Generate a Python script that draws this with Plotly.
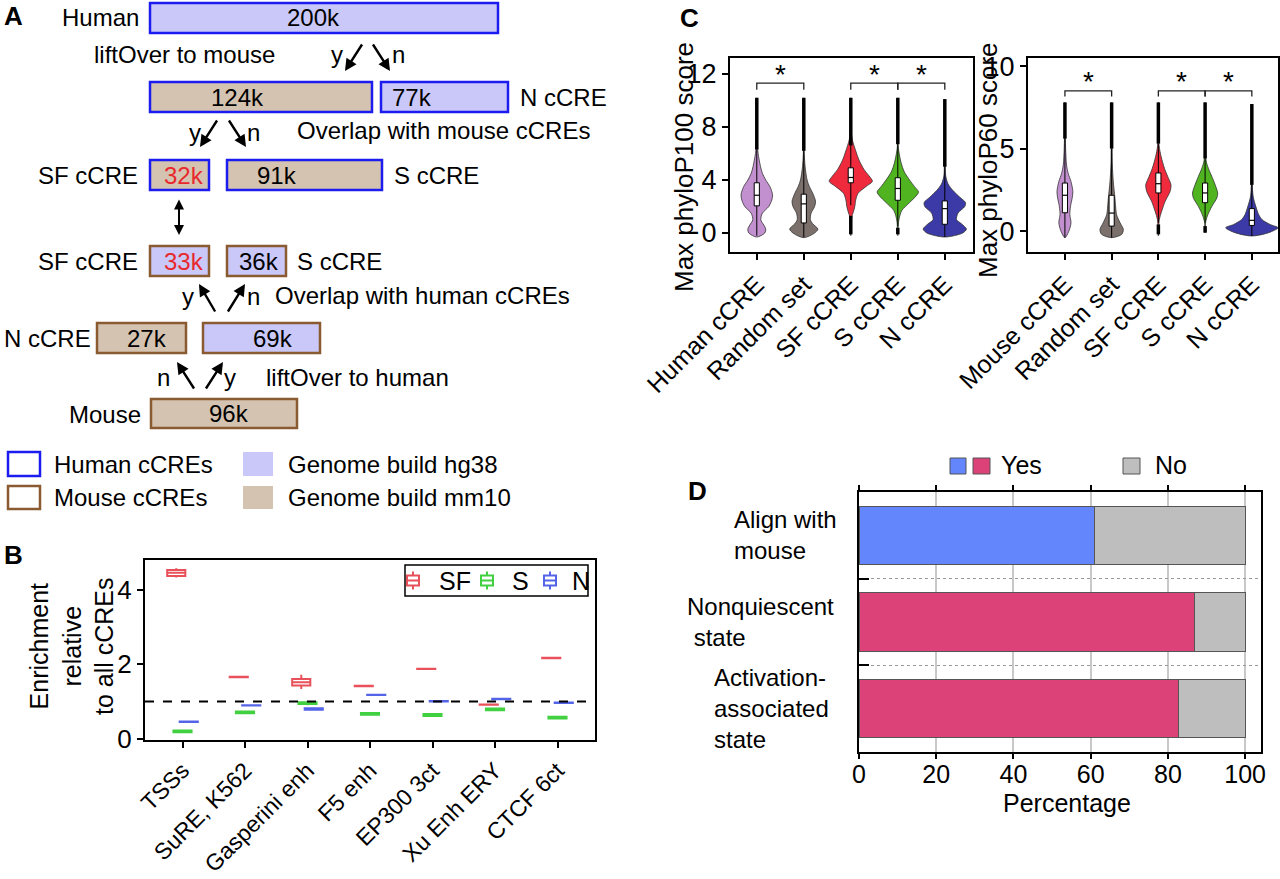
import plotly.graph_objects as go

W, H = 1280, 879
FONT = "Liberation Sans, Arial, Helvetica, sans-serif"


def px(x):
    return x / W


def py(y):
    return 1 - y / H


# ---------------- Panel A data ----------------
a_box_text = ["200k", "124k", "77k", "32k", "91k", "33k", "36k", "27k", "69k", "96k"]
a_box_species = ["human", "human", "human", "human", "human", "mouse", "mouse", "mouse", "mouse", "mouse"]
a_box_build = ["hg38", "mm10", "hg38", "mm10", "mm10", "hg38", "hg38", "mm10", "hg38", "mm10"]
a_box_red = [False, False, False, True, False, True, False, False, False, False]
a_legend = ["Human cCREs", "Mouse cCREs", "Genome build hg38", "Genome build mm10"]

# ---------------- Panel B data ----------------
b_categories = ["TSSs", "SuRE, K562", "Gasperini enh", "F5 enh", "EP300 3ct", "Xu Enh ERY", "CTCF 6ct"]
b_series_names = ["SF", "S", "N"]
b_sf_med = [4.46, 1.66, 1.52, 1.42, 1.88, 0.92, 2.17]
b_sf_q1 = [4.37, 1.655, 1.43, 1.415, 1.875, 0.915, 2.165]
b_sf_q3 = [4.53, 1.665, 1.61, 1.425, 1.885, 0.925, 2.175]
b_sf_lo = [4.33, 1.655, 1.34, 1.415, 1.875, 0.915, 2.165]
b_sf_hi = [4.58, 1.665, 1.72, 1.425, 1.885, 0.925, 2.175]
b_s_med = [0.20, 0.71, 0.96, 0.67, 0.64, 0.79, 0.57]
b_s_q1 = [0.175, 0.685, 0.935, 0.645, 0.615, 0.765, 0.545]
b_s_q3 = [0.225, 0.735, 0.985, 0.695, 0.665, 0.815, 0.595]
b_s_lo = [0.175, 0.685, 0.90, 0.645, 0.615, 0.765, 0.545]
b_s_hi = [0.225, 0.735, 1.02, 0.695, 0.665, 0.815, 0.595]
b_n_med = [0.46, 0.90, 0.80, 1.18, 1.01, 1.07, 0.97]
b_n_q1 = [0.455, 0.895, 0.78, 1.175, 1.005, 1.065, 0.965]
b_n_q3 = [0.465, 0.905, 0.82, 1.185, 1.015, 1.075, 0.975]
b_reference_level = 1.0

# ---------------- Panel C data ----------------
c1_categories = ["Human cCRE", "Random set", "SF cCRE", "S cCRE", "N cCRE"]
c2_categories = ["Mouse cCRE", "Random set", "SF cCRE", "S cCRE", "N cCRE"]
c_colors = ["#c28fcf", "#7b706b", "#ee2a3c", "#4fb41f", "#3b3aa6"]

# violin outlines: score levels and half-widths (category units)
c1_violin_y = [
    [-0.3, 0.0, 0.3, 0.6, 1.0, 1.5, 2.0, 2.5, 2.9, 3.5, 4.0, 4.5, 5.0, 6.0, 6.5, 10.2],
    [-0.35, 0.0, 0.3, 0.7, 1.0, 1.5, 2.0, 2.4, 3.0, 3.5, 4.0, 5.0, 6.0, 10.2],
    [-0.2, 0.5, 1.2, 1.6, 2.0, 2.5, 3.0, 3.5, 3.9, 4.3, 4.8, 5.5, 6.2, 7.0, 7.5, 10.2],
    [-0.2, 0.5, 0.8, 1.2, 1.7, 2.3, 2.8, 3.1, 3.5, 4.0, 4.6, 5.3, 6.2, 6.5, 10.2],
    [-0.3, 0.0, 0.3, 0.7, 1.0, 1.5, 2.0, 2.3, 2.7, 3.2, 3.7, 4.3, 5.0, 10.1],
]
c1_violin_w = [
    [0, .17, .19, .15, .085, .12, .255, .32, .335, .28, .19, .12, .08, .028, .015, 0],
    [0, .23, .30, .19, .14, .155, .23, .25, .19, .12, .07, .028, .01, 0],
    [0, .01, .02, .055, .085, .105, .155, .32, .46, .39, .28, .175, .105, .035, .015, 0],
    [0, .01, .015, .035, .085, .25, .39, .44, .355, .25, .14, .07, .02, .01, 0],
    [0, .38, .46, .355, .25, .28, .425, .44, .32, .175, .07, .02, .01, 0],
]
c1_q1 = [2.05, 0.76, 3.79, 2.47, 0.66]
c1_med = [2.85, 2.20, 4.19, 3.36, 1.84]
c1_q3 = [3.79, 2.93, 4.92, 4.17, 2.42]
c1_lo = [-0.2, -0.3, 2.1, 0.5, -0.3]
c1_hi = [6.3, 6.2, 6.6, 6.7, 5.0]
c1_out_hi = [10.2, 10.2, 10.2, 10.2, 10.1]
c1_out_lo = [None, None, -0.1, -0.1, None]
c1_out_lo_top = [None, None, 1.3, 0.4, None]

c2_violin_y = [
    [-0.4, 0.0, 0.5, 1.0, 1.5, 2.0, 2.4, 3.0, 3.5, 4.0, 5.0, 5.6, 7.8],
    [-0.4, -0.2, 0.1, 0.5, 1.0, 1.5, 2.0, 3.0, 4.0, 5.0, 7.8],
    [-0.3, 0.7, 1.2, 1.8, 2.4, 2.8, 3.3, 3.8, 4.5, 5.2, 7.8],
    [-0.1, 0.6, 1.0, 1.5, 2.0, 2.3, 2.8, 3.3, 3.8, 4.3, 7.8],
    [-0.3, -0.1, 0.2, 0.4, 0.7, 1.0, 1.5, 2.0, 2.5, 7.7],
]
c2_violin_w = [
    [0, .085, .13, .105, .12, .155, .17, .13, .07, .035, .015, .01, 0],
    [0, .215, .25, .18, .105, .085, .07, .035, .015, .01, 0],
    [0, .02, .07, .145, .25, .27, .2, .13, .06, .015, 0],
    [0, .015, .06, .145, .25, .27, .215, .145, .07, .02, 0],
    [0, .36, .56, .39, .215, .145, .085, .035, .015, 0],
]
c2_q1 = [1.11, 0.30, 2.31, 1.72, 0.34]
c2_med = [2.17, 1.09, 2.87, 2.31, 0.65]
c2_q3 = [2.91, 2.17, 3.52, 2.91, 1.36]
c2_lo = [-0.4, -0.4, 0.5, 0.5, -0.3]
c2_hi = [5.6, 5.0, 5.3, 4.4, 2.8]
c2_out_hi = [7.8, 7.8, 7.8, 7.8, 7.7]
c2_out_lo = [None, None, -0.2, -0.1, None]
c2_out_lo_top = [None, None, 0.4, 0.3, None]

c_brackets = [(0, 1), (2, 3), (3, 4)]
c1_bracket_level = [11.3, 10.8]
c2_bracket_level = [8.5, 8.15]

# ---------------- Panel D data ----------------
d_categories = ["Align with<br>mouse", "Nonquiescent<br>&nbsp;state", "Activation-<br>associated<br>state"]
d_yes = [60.9, 86.8, 82.8]
d_no = [39.1, 13.2, 17.2]
d_yes_colors = ["#6386fd", "#dc4278", "#dc4278"]
d_no_color = "#bebebe"

fig = go.Figure()

# ---------------- Panel B traces ----------------
b_colors = ["#e8505a", "#40d040", "#5464e8"]
b_offsets = [-0.1, 0.0, 0.1]
b_series = [
    (b_sf_q1, b_sf_med, b_sf_q3, b_sf_lo, b_sf_hi),
    (b_s_q1, b_s_med, b_s_q3, b_s_lo, b_s_hi),
    (b_n_q1, b_n_med, b_n_q3, b_n_q1, b_n_q3),
]
for k, (q1, med, q3, lo, hi) in enumerate(b_series):
    fig.add_trace(go.Box(
        x=[i + b_offsets[k] for i in range(len(b_categories))], q1=q1, median=med, q3=q3,
        lowerfence=lo, upperfence=hi, name=b_series_names[k], width=0.29, whiskerwidth=0,
        fillcolor="white", line=dict(color=b_colors[k], width=2), boxpoints=False,
        orientation="v", xaxis="x", yaxis="y", showlegend=False))


# ---------------- Panel C traces ----------------
def line_trace(xs, ys, xa, ya, color="black", width=1.0):
    fig.add_trace(go.Scatter(x=xs, y=ys, mode="lines", line=dict(color=color, width=width),
                             xaxis=xa, yaxis=ya, showlegend=False, hoverinfo="skip"))


def add_panel_c(xa, ya, vys, vws, q1, med, q3, lo, hi, out_hi, out_lo, out_lo_top):
    hb = 0.055
    for i in range(len(vys)):
        ys, ws = vys[i], vws[i]
        xs = [i + w for w in ws] + [i - w for w in reversed(ws)]
        yy = list(ys) + list(reversed(ys))
        fig.add_trace(go.Scatter(
            x=xs, y=yy, mode="lines", fill="toself", fillcolor=c_colors[i],
            line=dict(color="#333333", width=0.8, shape="spline", smoothing=0.8),
            xaxis=xa, yaxis=ya, showlegend=False, hoverinfo="skip"))
        line_trace([i, i], [lo[i], q1[i]], xa, ya)
        line_trace([i, i], [q3[i], hi[i]], xa, ya)
        line_trace([i, i], [hi[i], out_hi[i]], xa, ya, width=3.5)
        if out_lo[i] is not None:
            line_trace([i, i], [out_lo[i], out_lo_top[i]], xa, ya, width=3.5)
        fig.add_trace(go.Scatter(
            x=[i - hb, i + hb, i + hb, i - hb, i - hb], y=[q1[i], q1[i], q3[i], q3[i], q1[i]],
            mode="lines", fill="toself", fillcolor="white", line=dict(color="black", width=1),
            xaxis=xa, yaxis=ya, showlegend=False, hoverinfo="skip"))
        line_trace([i - hb, i + hb], [med[i], med[i]], xa, ya, width=1.2)


add_panel_c("x2", "y2", c1_violin_y, c1_violin_w, c1_q1, c1_med, c1_q3, c1_lo, c1_hi,
            c1_out_hi, c1_out_lo, c1_out_lo_top)
add_panel_c("x3", "y3", c2_violin_y, c2_violin_w, c2_q1, c2_med, c2_q3, c2_lo, c2_hi,
            c2_out_hi, c2_out_lo, c2_out_lo_top)

annotations = []
for xa, ya, lev, star_y in [("x2", "y2", c1_bracket_level, 11.95), ("x3", "y3", c2_bracket_level, 9.05)]:
    for a, b in c_brackets:
        line_trace([a, a, b, b], [lev[1], lev[0], lev[0], lev[1]], xa, ya, color="#222222", width=1.3)
        annotations.append(dict(x=(a + b) / 2, y=star_y, xref=xa, yref=ya, text="*",
                                showarrow=False, font=dict(size=28, color="black", family=FONT),
                                yanchor="middle"))

# ---------------- Panel D traces ----------------
d_pos = list(range(len(d_categories)))
fig.add_trace(go.Bar(
    y=d_pos, x=d_yes, orientation="h", width=0.67,
    marker=dict(color=d_yes_colors, line=dict(color="#555555", width=1)),
    xaxis="x4", yaxis="y4", showlegend=False, name="Yes"))
fig.add_trace(go.Bar(
    y=d_pos, x=d_no, orientation="h", width=0.67,
    marker=dict(color=d_no_color, line=dict(color="#555555", width=1)),
    xaxis="x4", yaxis="y4", showlegend=False, name="No"))

# ---------------- axes ----------------
base = dict(showline=True, linecolor="black", linewidth=2, mirror=True, ticks="outside",
            tickcolor="black", tickwidth=2, ticklen=6, zeroline=False, showgrid=False,
            automargin=False, tickfont=dict(family=FONT, size=25, color="black"))


def ax(**kw):
    d = dict(base)
    d.update(kw)
    return d


layout_axes = dict(
    xaxis=ax(domain=[px(145), px(595)], anchor="y", range=[-0.6, 6.6],
             tickvals=list(range(len(b_categories))), ticktext=b_categories, tickangle=-45,
             tickfont=dict(family=FONT, size=23, color="black")),
    yaxis=ax(domain=[py(740), py(560)], anchor="x", range=[-0.03, 4.8], tickvals=[0, 2, 4],
             tickfont=dict(family=FONT, size=26, color="black")),
    xaxis2=ax(domain=[px(730), px(973)], anchor="y2", range=[-0.57, 4.6],
              tickvals=list(range(5)), ticktext=c1_categories, tickangle=-45),
    yaxis2=ax(domain=[py(252), py(58)], anchor="x2", range=[-1.43, 13.2], tickvals=[0, 4, 8, 12],
              tickfont=dict(family=FONT, size=27, color="black")),
    xaxis3=ax(domain=[px(1028), px(1278)], anchor="y3", range=[-0.79, 4.56],
              tickvals=list(range(5)), ticktext=c2_categories, tickangle=-45),
    yaxis3=ax(domain=[py(252), py(58)], anchor="x3", range=[-1.27, 10.49], tickvals=[0, 5, 10],
              tickfont=dict(family=FONT, size=27, color="black")),
    xaxis4=ax(domain=[px(859), px(1261)], anchor="y4", range=[0, 104.1],
              tickvals=[0, 20, 40, 60, 80, 100], mirror="ticks", showgrid=True,
              gridcolor="#c8c8c8", gridwidth=1.5, ticklen=5, ticklabelstandoff=-6),
    yaxis4=ax(domain=[py(752), py(492)], anchor="x4", range=[2.5, -0.5], tickvals=[0.5, 1.5],
              ticks="inside", ticklen=10, showticklabels=False, showgrid=True,
              gridcolor="#999999", griddash="dot", gridwidth=1),
)

shapes = []
# dashed reference line in B
shapes.append(dict(type="line", xref="x domain", yref="y", x0=0, x1=1,
                   y0=b_reference_level, y1=b_reference_level,
                   line=dict(color="black", width=2, dash="dash")))

# ---------------- Panel A drawing ----------------
a_box_px = [(150, 3, 498, 33), (150, 82, 372, 112), (381, 82, 508, 112), (150, 160, 209, 190),
            (227, 160, 382, 190), (150, 246, 209, 276), (227, 246, 286, 276), (97, 323, 186, 353),
            (203, 323, 320, 353), (151, 399, 297, 428)]
a_text_x = [313, 237, 412, 184, 277, 184, 259, 147, 273, 229]
border = {"human": "#1c1cf0", "mouse": "#8a5a30"}
fillc = {"hg38": "#c9c8f8", "mm10": "#d4c3b0"}
for i, (x0, y0, x1, y1) in enumerate(a_box_px):
    shapes.append(dict(type="rect", xref="paper", yref="paper", x0=px(x0), x1=px(x1),
                       y0=py(y1), y1=py(y0), fillcolor=fillc[a_box_build[i]],
                       line=dict(color=border[a_box_species[i]], width=2.5)))
    annotations.append(dict(x=px(a_text_x[i]), y=py((y0 + y1) / 2), xref="paper", yref="paper",
                            text=a_box_text[i], showarrow=False, xanchor="center", yanchor="middle",
                            font=dict(family=FONT, size=24,
                                      color="#e8282d" if a_box_red[i] else "black")))


def txt(text, x, y, anchor="left", size=24, color="black", bold=False):
    annotations.append(dict(x=px(x), y=py(y), xref="paper", yref="paper",
                            text=("<b>%s</b>" % text) if bold else text, showarrow=False,
                            xanchor=anchor, yanchor="middle",
                            font=dict(family=FONT, size=size, color=color)))


txt("A", 2, 16, size=26, bold=True)
txt("Human", 141, 18, "right")
txt("liftOver to mouse", 92, 55)
txt("y", 337, 55, "center")
txt("n", 398, 55, "center")
txt("N cCRE", 518, 97)
txt("y", 195, 132, "center")
txt("n", 253, 132, "center")
txt("Overlap with mouse cCREs", 295, 131)
txt("SF cCRE", 140, 175, "right")
txt("S cCRE", 392, 175)
txt("SF cCRE", 140, 261, "right")
txt("S cCRE", 295, 261)
txt("y", 188, 297, "center")
txt("n", 253, 297, "center")
txt("Overlap with human cCREs", 273, 295)
txt("N cCRE", 93, 338, "right")
txt("n", 163, 377, "center")
txt("y", 230, 377, "center")
txt("liftOver to human", 264, 377)
txt("Mouse", 143, 414, "right")

# arrows (tail -> head)
a_arrows = [((363, 43), (345, 71)), ((372, 43), (390, 71)),
            ((218, 119), (200, 147)), ((228, 119), (246, 147)),
            ((216, 313), (199, 284)), ((227, 313), (245, 284)),
            ((195, 390), (177, 362)), ((205, 390), (223, 362))]
for (tx, ty), (hx, hy) in a_arrows:
    annotations.append(dict(x=px(hx), y=py(hy), xref="paper", yref="paper", ax=tx - hx, ay=ty - hy,
                            axref="pixel", ayref="pixel", text="", showarrow=True, arrowhead=2,
                            arrowsize=1, arrowwidth=2.4, arrowcolor="black"))
annotations.append(dict(x=px(179), y=py(235), xref="paper", yref="paper", ax=0, ay=-37,
                        axref="pixel", ayref="pixel", text="", showarrow=True, arrowhead=2,
                        startarrowhead=2, arrowside="end+start", arrowsize=1, arrowwidth=2,
                        arrowcolor="black"))

# Panel A legend
leg_rows = [(452, 476), (486, 509)]
for r, (y0, y1) in enumerate(leg_rows):
    shapes.append(dict(type="rect", xref="paper", yref="paper", x0=px(8), x1=px(40),
                       y0=py(y1), y1=py(y0), fillcolor="white",
                       line=dict(color=border["human" if r == 0 else "mouse"], width=2.5)))
    shapes.append(dict(type="rect", xref="paper", yref="paper", x0=px(243), x1=px(273),
                       y0=py(y1), y1=py(y0), fillcolor=fillc["hg38" if r == 0 else "mm10"],
                       line=dict(width=0)))
    txt(a_legend[r], 52, (y0 + y1) / 2)
    txt(a_legend[r + 2], 286, (y0 + y1) / 2)

# ---------------- Panel B legend (box icons) ----------------
shapes.append(dict(type="rect", xref="paper", yref="paper", x0=px(405), x1=px(588),
                   y0=py(596), y1=py(565), fillcolor="white", line=dict(color="black", width=1.5)))
b_leg_icon_x = [413, 487, 550]
b_leg_text_x = [437, 510, 570]
for k in range(3):
    cx, cy = b_leg_icon_x[k], 580.5
    col = b_colors[k]
    shapes.append(dict(type="rect", xref="paper", yref="paper", x0=px(cx - 6), x1=px(cx + 6),
                       y0=py(cy + 5), y1=py(cy - 5), fillcolor="white", line=dict(color=col, width=2)))
    shapes.append(dict(type="line", xref="paper", yref="paper", x0=px(cx - 6), x1=px(cx + 6),
                       y0=py(cy), y1=py(cy), line=dict(color=col, width=2)))
    for s in (-1, 1):
        shapes.append(dict(type="line", xref="paper", yref="paper", x0=px(cx), x1=px(cx),
                           y0=py(cy + s * 5), y1=py(cy + s * 9), line=dict(color=col, width=2)))
    txt(b_series_names[k], b_leg_text_x[k], 581, size=25)

# ---------------- Panel labels and titles ----------------
txt("B", 2, 555, size=26, bold=True)
annotations.append(dict(x=px(71), y=py(646), xref="paper", yref="paper",
                        text="Enrichment<br>relative<br>to all cCREs", textangle=-90,
                        showarrow=False, xanchor="center", yanchor="middle",
                        font=dict(family=FONT, size=25, color="black")))
txt("C", 678, 18, size=26, bold=True)
annotations.append(dict(x=px(684), y=py(167), xref="paper", yref="paper",
                        text="Max phyloP100 score", textangle=-90, showarrow=False,
                        xanchor="center", yanchor="middle",
                        font=dict(family=FONT, size=26, color="black")))
annotations.append(dict(x=px(988), y=py(160), xref="paper", yref="paper",
                        text="Max phyloP60 score", textangle=-90, showarrow=False,
                        xanchor="center", yanchor="middle",
                        font=dict(family=FONT, size=26, color="black")))
txt("D", 686, 491, size=26, bold=True)
txt("Percentage", 1067, 803, "center", size=25)

# Panel D category labels
d_label_x = [732, 685, 712]
for i, lab in enumerate(d_categories):
    annotations.append(dict(x=px(d_label_x[i]), y=i, xref="paper", yref="y4", text=lab,
                            showarrow=False, xanchor="left", yanchor="middle", align="left",
                            font=dict(family=FONT, size=24, color="black")))

# Panel D legend
for (x0, x1), col in [((950, 966), d_yes_colors[0]), ((973, 990), d_yes_colors[1]),
                      ((1123, 1140), d_no_color)]:
    shapes.append(dict(type="rect", xref="paper", yref="paper", x0=px(x0), x1=px(x1),
                       y0=py(474), y1=py(458), fillcolor=col, line=dict(color="#555555", width=1)))
txt("Yes", 999, 465, size=25)
txt("No", 1153, 465, size=25)

fig.update_layout(
    width=W, height=H, margin=dict(l=0, r=0, t=0, b=0, autoexpand=False),
    paper_bgcolor="white", plot_bgcolor="white",
    font=dict(family=FONT, size=24, color="black"),
    barmode="stack", boxmode="overlay", showlegend=False,
    shapes=shapes, annotations=annotations,
    **layout_axes,
)

fig.write_html("out.html", config={"displayModeBar": False},
               post_script="document.body.style.margin='0px';"
                           "document.body.style.overflow='hidden';")
